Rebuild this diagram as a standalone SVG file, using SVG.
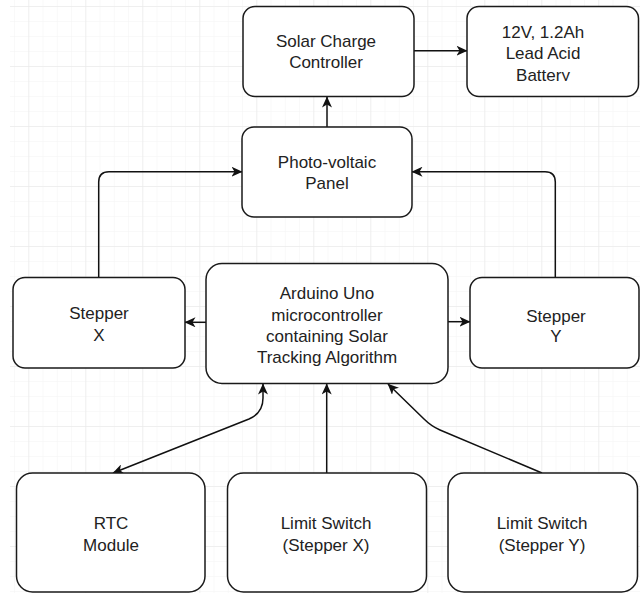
<svg xmlns="http://www.w3.org/2000/svg" width="640" height="593" viewBox="0 0 640 593">
  <style>
    .box { fill: #ffffff; stroke: #1a1a1a; stroke-width: 1.5; }
    .lbl { font-family: "Liberation Sans", Arial, sans-serif; font-size: 17px; fill: #222222; text-anchor: middle; }
    .edge { fill: none; stroke: #111111; stroke-width: 1.5; }
  </style>
  <defs>
    <pattern id="minor" patternUnits="userSpaceOnUse" x="28.3" y="6" width="14.25" height="15">
      <path d="M0,0 V15 M0,0 H14.25" fill="none" stroke="#f3f3f3" stroke-width="1"/>
    </pattern>
    <pattern id="major" patternUnits="userSpaceOnUse" x="28.3" y="6" width="57" height="60">
      <path d="M0,0 V60 M0,0 H57" fill="none" stroke="#e6e6e6" stroke-width="1"/>
    </pattern>
    <marker id="arr" viewBox="0 0 11 10" refX="10.5" refY="5" markerWidth="11" markerHeight="10" markerUnits="userSpaceOnUse" orient="auto-start-reverse">
      <path d="M0,0 L11,5 L0,10 L3,5 Z" fill="#111111"/>
    </marker>
    <clipPath id="batClip">
      <rect x="467" y="6" width="173" height="75"/>
    </clipPath>
  </defs>

  <rect x="0" y="0" width="640" height="593" fill="#ffffff"/>
  <rect x="10" y="0" width="630" height="593" fill="url(#minor)"/>
  <rect x="10" y="0" width="630" height="593" fill="url(#major)"/>

  <g id="connectors">
    <path class="edge" d="M414,50.7 L467,50.7" marker-end="url(#arr)"/>
    <path class="edge" d="M327,127 L327,97" marker-end="url(#arr)"/>
    <path class="edge" d="M98.7,277 L98.7,182 Q98.7,171.7 109,171.7 L242,171.7" marker-end="url(#arr)"/>
    <path class="edge" d="M555.3,277 L555.3,182 Q555.3,171.7 545,171.7 L412,171.7" marker-end="url(#arr)"/>
    <path class="edge" d="M206,322.3 L185,322.3" marker-end="url(#arr)"/>
    <path class="edge" d="M448,321.7 L470,321.7" marker-end="url(#arr)"/>
    <path class="edge" d="M113,473 L249,419 Q263,413 263,398 L263,384" marker-start="url(#arr)" marker-end="url(#arr)"/>
    <path class="edge" d="M326.7,473 L326.7,384" marker-end="url(#arr)"/>
    <path class="edge" d="M542,473 L440,430 Q431,426 424,419 L388,384" marker-end="url(#arr)"/>
  </g>

  <g id="solar-charge-controller">
    <rect class="box" x="243" y="6.5" width="171" height="90" rx="12"/>
    <text class="lbl" x="326" y="46.5">Solar Charge</text>
    <text class="lbl" x="326" y="68.3">Controller</text>
  </g>

  <g id="battery">
    <rect class="box" x="467" y="6.5" width="171.5" height="90" rx="12"/>
    <g clip-path="url(#batClip)">
      <text class="lbl" x="543" y="38">12V, 1.2Ah</text>
      <text class="lbl" x="543" y="59">Lead Acid</text>
      <text class="lbl" x="543" y="80.5">Battery</text>
    </g>
  </g>

  <g id="pv-panel">
    <rect class="box" x="242" y="127" width="170" height="90" rx="12"/>
    <text class="lbl" x="327" y="167.8">Photo-voltaic</text>
    <text class="lbl" x="327" y="189.4">Panel</text>
  </g>

  <g id="stepper-x">
    <rect class="box" x="13" y="277.5" width="172" height="90.5" rx="12"/>
    <text class="lbl" x="99" y="318.9">Stepper</text>
    <text class="lbl" x="99" y="340.5">X</text>
  </g>

  <g id="arduino">
    <rect class="box" x="206" y="263.5" width="242" height="120" rx="16"/>
    <text class="lbl" x="327" y="299">Arduino Uno</text>
    <text class="lbl" x="327" y="320.5">microcontroller</text>
    <text class="lbl" x="327" y="342">containing Solar</text>
    <text class="lbl" x="327" y="363">Tracking Algorithm</text>
  </g>

  <g id="stepper-y">
    <rect class="box" x="470" y="277.5" width="169" height="90.5" rx="12"/>
    <text class="lbl" x="556" y="321.5">Stepper</text>
    <text class="lbl" x="556" y="342.2">Y</text>
  </g>

  <g id="rtc-module">
    <rect class="box" x="16.5" y="473" width="188.5" height="119" rx="16"/>
    <text class="lbl" x="111" y="529">RTC</text>
    <text class="lbl" x="111" y="551">Module</text>
  </g>

  <g id="limit-switch-x">
    <rect class="box" x="227.5" y="473" width="199" height="119" rx="16"/>
    <text class="lbl" x="326" y="529">Limit Switch</text>
    <text class="lbl" x="326" y="551">(Stepper X)</text>
  </g>

  <g id="limit-switch-y">
    <rect class="box" x="448" y="473" width="189.5" height="119" rx="16"/>
    <text class="lbl" x="542" y="529">Limit Switch</text>
    <text class="lbl" x="542" y="551">(Stepper Y)</text>
  </g>
</svg>
